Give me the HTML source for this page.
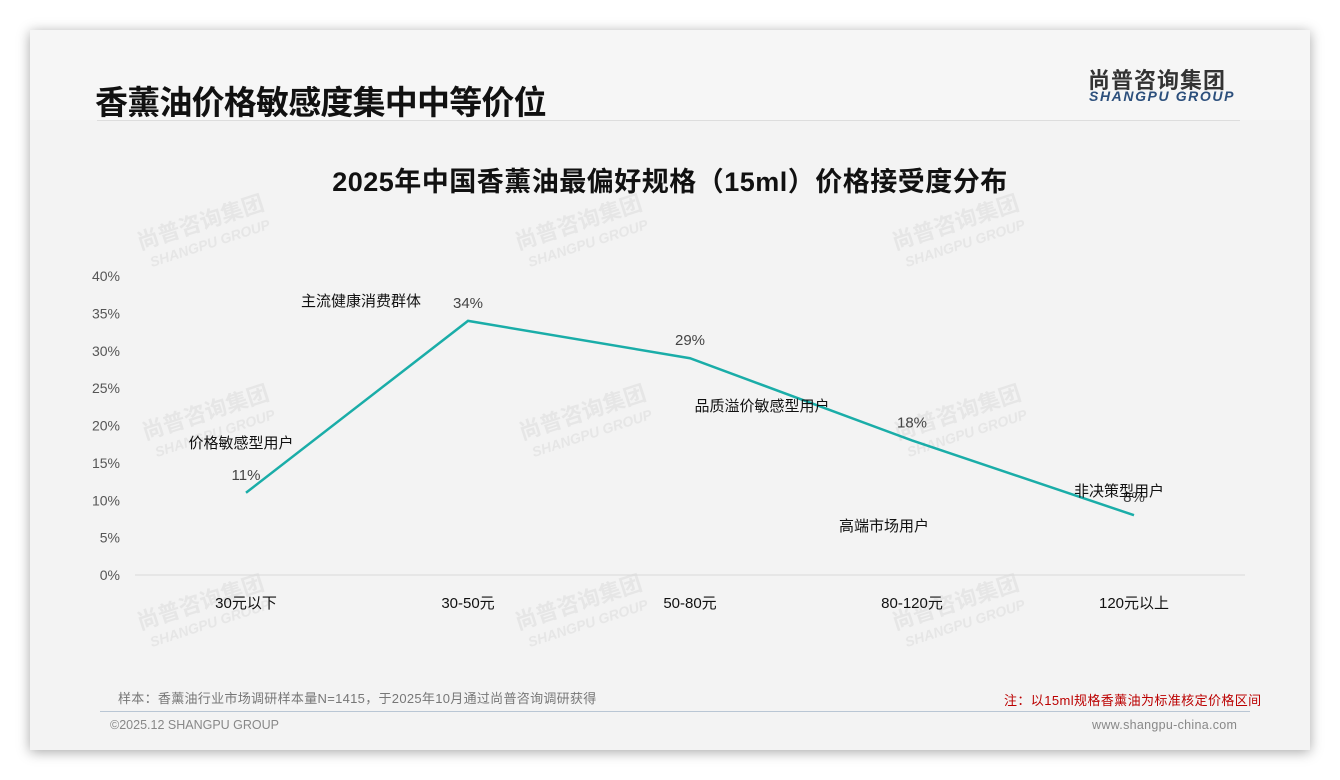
<!DOCTYPE html>
<html><head><meta charset="utf-8"><style>
body{margin:0;width:1340px;height:780px;background:#fff;font-family:"Liberation Sans","Noto Sans CJK SC",sans-serif;position:relative;overflow:hidden}
.card{position:absolute;left:30px;top:30px;width:1280px;height:720px;background:#f3f3f3;box-shadow:0 2px 12px rgba(0,0,0,.35)}
.head{position:absolute;left:0;top:0;width:1280px;height:90px;background:#f6f6f6}
.t{position:absolute;white-space:nowrap}
</style></head><body>
<div class="card">
<div class="head"></div>
</div>
<div class="t" style="left:95px;top:76px;font-size:33px;font-weight:bold;color:#111;letter-spacing:-0.8px">香薰油价格敏感度集中中等价位</div>
<div class="t" style="left:1088px;top:63px;font-size:22px;font-weight:bold;color:#333;letter-spacing:1px">尚普咨询集团</div>
<div class="t" style="left:1089px;top:88px;font-size:14px;font-weight:bold;font-style:italic;color:#2c4f7c;letter-spacing:1.6px">SHANGPU GROUP</div>
<div style="position:absolute;left:97px;top:120px;width:1143px;height:1px;background:#ddd"></div>
<div class="t" style="left:0;width:1340px;text-align:center;top:160px;font-size:27px;font-weight:bold;color:#111;letter-spacing:0.5px">2025年中国香薰油最偏好规格（15ml）价格接受度分布</div>
<svg id="c" width="1340" height="780" style="position:absolute;left:0;top:0"></svg>
<div class="t" style="left:118px;top:688px;font-size:13px;color:#777;letter-spacing:0.3px">样本：香薰油行业市场调研样本量N=1415，于2025年10月通过尚普咨询调研获得</div>
<div class="t" style="left:1004px;top:690px;font-size:13px;color:#b00;letter-spacing:0.4px">注：以15ml规格香薰油为标准核定价格区间</div>
<div style="position:absolute;left:100px;top:711px;width:1150px;height:1px;background:#b9c6d4"></div>
<div class="t" style="left:110px;top:718px;font-size:12.5px;color:#888">©2025.12 SHANGPU GROUP</div>
<div class="t" style="left:1092px;top:718px;font-size:12.5px;color:#888;letter-spacing:0.3px">www.shangpu-china.com</div>
<script>
const categories=["30元以下","30-50元","50-80元","80-120元","120元以上"];
const values=[11,34,29,18,8];
const yTicks=[0,5,10,15,20,25,30,35,40];
const annotations=["价格敏感型用户","主流健康消费群体","品质溢价敏感型用户","高端市场用户","非决策型用户"];
const NS="http://www.w3.org/2000/svg";
const svg=document.getElementById('c');
const x0=135,x1=1245,yb=575,yt=276;
const xS=i=>x0+(i+0.5)*(x1-x0)/categories.length;
const yS=v=>yb-(v/40)*(yb-yt);
function mk(t,a,txt){const e=document.createElementNS(NS,t);for(const k in a)e.setAttribute(k,a[k]);if(txt!=null)e.textContent=txt;svg.appendChild(e);return e;}
[[140,250],[518,250],[895,250],[145,440],[522,440],[897,440],[140,630],[518,630],[895,630]].forEach(p=>{
 const g=document.createElementNS(NS,'g');g.setAttribute('transform',`translate(${p[0]},${p[1]}) rotate(-18)`);
 
 const a=document.createElementNS(NS,'text');a.setAttribute('font-size','22');a.setAttribute('font-weight','bold');a.setAttribute('fill','#e6e6e6');a.textContent='尚普咨询集团';g.appendChild(a);
 const b=document.createElementNS(NS,'text');b.setAttribute('y','20');b.setAttribute('x','6');b.setAttribute('font-size','14');b.setAttribute('font-weight','bold');b.setAttribute('font-style','italic');b.setAttribute('fill','#e6e6e6');b.textContent='SHANGPU GROUP';g.appendChild(b);
 svg.appendChild(g);
});
yTicks.forEach(v=>{
 const t=mk('text',{x:120,y:yS(v)+5,'text-anchor':'end','font-size':14,fill:'#555'},v+'%');
 
});
const ax=mk('line',{x1:x0,x2:x1,y1:yb,y2:yb,stroke:'#d9d9d9'});

categories.forEach((c,i)=>{
 const t=mk('text',{x:xS(i),y:608,'text-anchor':'middle','font-size':15,fill:'#111'},c);
 
});
const ln=mk('polyline',{points:values.map((v,i)=>xS(i)+','+yS(v)).join(' '),fill:'none',stroke:'#1aada8','stroke-width':2.5});

values.forEach((v,i)=>{
 const t=mk('text',{x:xS(i),y:yS(v)-13,'text-anchor':'middle','font-size':15,fill:'#444'},v+'%');
 
});
const annPos=[[241,448],[361,306],[762,411],[884,531],[1119,496]];
annotations.forEach((a,i)=>{
 const t=mk('text',{x:annPos[i][0],y:annPos[i][1],'text-anchor':'middle','font-size':15,fill:'#111'},a);
 
});
</script>
</body></html>
